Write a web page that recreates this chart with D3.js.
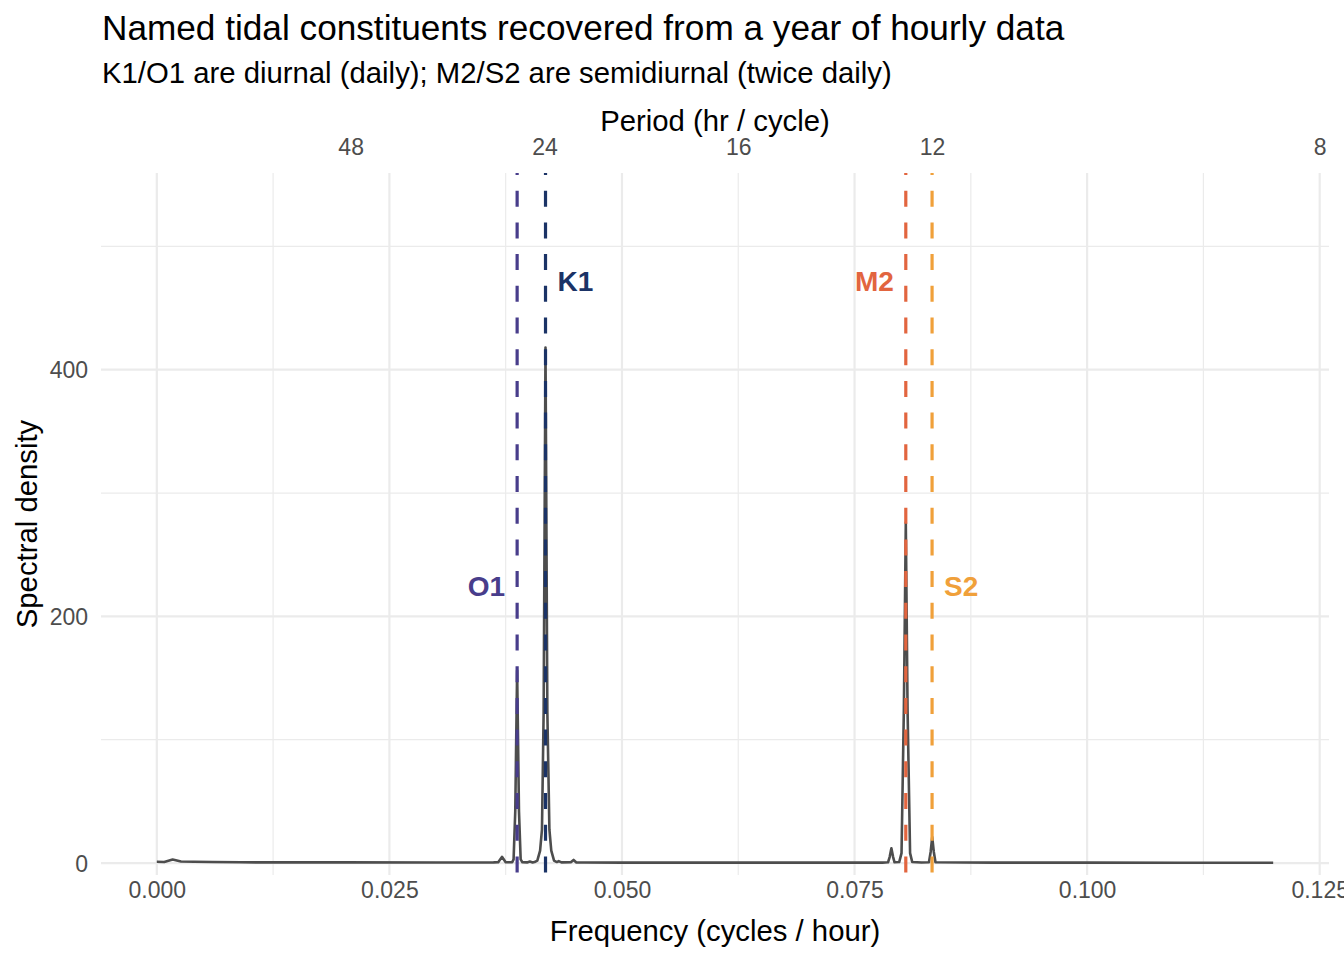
<!DOCTYPE html>
<html>
<head>
<meta charset="utf-8">
<script src="https://cdn.jsdelivr.net/npm/d3@7"></script>
<style>
  body { margin: 0; background: white; }
  text { font-family: "Liberation Sans", Arial, Helvetica, sans-serif; }
</style>
</head>
<body>
<div id="chart"></div>
<script>
// spectrum (frequency in cycles/hour, spectral density)
const freq = [0, 0.0008, 0.0017, 0.0026, 0.004, 0.006, 0.009, 0.013, 0.02, 0.03, 0.0362,
  0.0367, 0.0371, 0.0375, 0.0382, 0.03835, 0.03853, 0.03873, 0.03893, 0.03911, 0.0393,
  0.0398, 0.0401, 0.0404, 0.0406, 0.0409, 0.0412, 0.0414, 0.04158, 0.04178, 0.04198,
  0.0422, 0.0424, 0.0427, 0.0430, 0.0432, 0.0435, 0.0445, 0.0448, 0.0451, 0.046, 0.05,
  0.06, 0.07, 0.078, 0.0786, 0.07878, 0.07896, 0.07914, 0.0793, 0.0798, 0.08005, 0.0803,
  0.08051, 0.0807, 0.08097, 0.0812, 0.0822, 0.0830, 0.08318, 0.08335, 0.08352, 0.0837,
  0.09, 0.1, 0.11, 0.12];
const density = [1.0, 0.8, 2.8, 1.2, 1.0, 0.8, 0.6, 0.5, 0.5, 0.4, 0.5,
  0.6, 5, 0.7, 0.6, 3, 42, 156, 42, 3, 0.6,
  0.5, 1.2, 0.5, 0.8, 2, 10, 27, 122, 418, 122,
  27, 10, 2, 0.8, 1.6, 0.5, 0.6, 2.5, 0.5, 0.4, 0.3,
  0.3, 0.3, 0.3, 0.6, 5, 12, 5, 0.6, 0.8, 8, 124,
  276, 124, 8, 0.8, 0.4, 0.6, 9, 21, 9, 0.6,
  0.3, 0.3, 0.2, 0.2];

// named constituents
const constName = ["O1", "K1", "M2", "S2"];
const constFreq = [1 / 25.819, 1 / 23.934, 1 / 12.421, 1 / 12.0];
const constColor = ["#483D8B", "#1B3366", "#E2653F", "#F0A03A"];
const labelY = [225, 472, 472, 225];
const labelSide = [-1, 1, -1, 1];   // -1 = left of line, 1 = right

const xBreaks = [0, 0.025, 0.05, 0.075, 0.1, 0.125];
const xMinor = [0.0125, 0.0375, 0.0625, 0.0875, 0.1125];
const yBreaks = [0, 200, 400];
const yMinor = [100, 300, 500];
const periodBreaks = [48, 24, 16, 12, 8];

const width = 1344, height = 960;
const margin = { top: 173, right: 15, bottom: 85, left: 101 };

const svg = d3.select("#chart").append("svg")
  .attr("width", width)
  .attr("height", height)
  .style("background", "white");

// scales, with ggplot's 5% padding on x
const x = d3.scaleLinear()
  .domain([-0.006, 0.126])
  .range([margin.left, width - margin.right]);
const y = d3.scaleLinear()
  .domain([-9.7, 559.5])
  .range([height - margin.bottom, margin.top]);

const pTop = margin.top, pBottom = height - margin.bottom;
const pLeft = margin.left, pRight = width - margin.right;

// grid
const grid = svg.append("g");
grid.selectAll(".vminor").data(xMinor).enter().append("line")
  .attr("x1", d => x(d)).attr("x2", d => x(d))
  .attr("y1", pTop).attr("y2", pBottom)
  .attr("stroke", "#ebebeb").attr("stroke-width", 1.2);
grid.selectAll(".hminor").data(yMinor).enter().append("line")
  .attr("x1", pLeft).attr("x2", pRight)
  .attr("y1", d => y(d)).attr("y2", d => y(d))
  .attr("stroke", "#ebebeb").attr("stroke-width", 1.2);
grid.selectAll(".vmajor").data(xBreaks).enter().append("line")
  .attr("x1", d => x(d)).attr("x2", d => x(d))
  .attr("y1", pTop).attr("y2", pBottom)
  .attr("stroke", "#ebebeb").attr("stroke-width", 2.2);
grid.selectAll(".hmajor").data(yBreaks).enter().append("line")
  .attr("x1", pLeft).attr("x2", pRight)
  .attr("y1", d => y(d)).attr("y2", d => y(d))
  .attr("stroke", "#ebebeb").attr("stroke-width", 2.2);

// spectrum line
const line = d3.line()
  .x((d, i) => x(freq[i]))
  .y(d => y(d));
svg.append("path")
  .datum(density)
  .attr("d", line)
  .attr("fill", "none")
  .attr("stroke", "#4d4d4d")
  .attr("stroke-width", 2.6)
  .attr("stroke-linejoin", "round");

// dashed constituent lines
svg.selectAll(".vline").data(constFreq).enter().append("line")
  .attr("x1", d => x(d)).attr("x2", d => x(d))
  .attr("y1", pTop).attr("y2", pBottom)
  .attr("stroke", (d, i) => constColor[i])
  .attr("stroke-width", 3.2)
  .attr("stroke-dasharray", "16,15.7")
  .attr("stroke-dashoffset", 14);

// constituent labels
svg.selectAll(".clabel").data(constName).enter().append("text")
  .attr("x", (d, i) => x(constFreq[i]) + labelSide[i] * 12)
  .attr("y", (d, i) => y(labelY[i]))
  .attr("dy", "0.36em")
  .attr("text-anchor", (d, i) => labelSide[i] < 0 ? "end" : "start")
  .attr("fill", (d, i) => constColor[i])
  .style("font-size", "28px")
  .style("font-weight", "bold")
  .text(d => d);

// bottom axis
const xAxis = d3.axisBottom(x)
  .tickValues(xBreaks)
  .tickFormat(d3.format(".3f"))
  .tickSize(0)
  .tickPadding(0);
const gx = svg.append("g")
  .attr("transform", "translate(0," + 898 + ")")
  .call(xAxis);
gx.select(".domain").remove();
gx.selectAll("text")
  .attr("dy", 0)
  .attr("fill", "#4d4d4d")
  .style("font-size", "23px");

// top axis (period)
const xTop = d3.axisTop(x)
  .tickValues(periodBreaks.map(p => 1 / p))
  .tickFormat((d, i) => periodBreaks[i])
  .tickSize(0)
  .tickPadding(0);
const gt = svg.append("g")
  .attr("transform", "translate(0," + 155 + ")")
  .call(xTop);
gt.select(".domain").remove();
gt.selectAll("text")
  .attr("dy", 0)
  .attr("fill", "#4d4d4d")
  .style("font-size", "23px");

// left axis
const yAxis = d3.axisLeft(y)
  .tickValues(yBreaks)
  .tickSize(0)
  .tickPadding(0);
const gy = svg.append("g")
  .attr("transform", "translate(" + 88 + ",0)")
  .call(yAxis);
gy.select(".domain").remove();
gy.selectAll("text")
  .attr("dy", "0.36em")
  .attr("fill", "#4d4d4d")
  .style("font-size", "23px");

// titles
svg.append("text")
  .attr("x", 102).attr("y", 40)
  .attr("fill", "black")
  .style("font-size", "35.2px")
  .text("Named tidal constituents recovered from a year of hourly data");
svg.append("text")
  .attr("x", 102).attr("y", 83)
  .attr("fill", "black")
  .style("font-size", "29.3px")
  .text("K1/O1 are diurnal (daily); M2/S2 are semidiurnal (twice daily)");
svg.append("text")
  .attr("x", (pLeft + pRight) / 2).attr("y", 131)
  .attr("text-anchor", "middle")
  .style("font-size", "29.3px")
  .text("Period (hr / cycle)");
svg.append("text")
  .attr("x", (pLeft + pRight) / 2).attr("y", 941)
  .attr("text-anchor", "middle")
  .style("font-size", "29.3px")
  .text("Frequency (cycles / hour)");
svg.append("text")
  .attr("transform", "translate(" + 37 + "," + (pTop + pBottom) / 2 + ") rotate(-90)")
  .attr("text-anchor", "middle")
  .style("font-size", "29.3px")
  .text("Spectral density");
</script>
</body>
</html>
